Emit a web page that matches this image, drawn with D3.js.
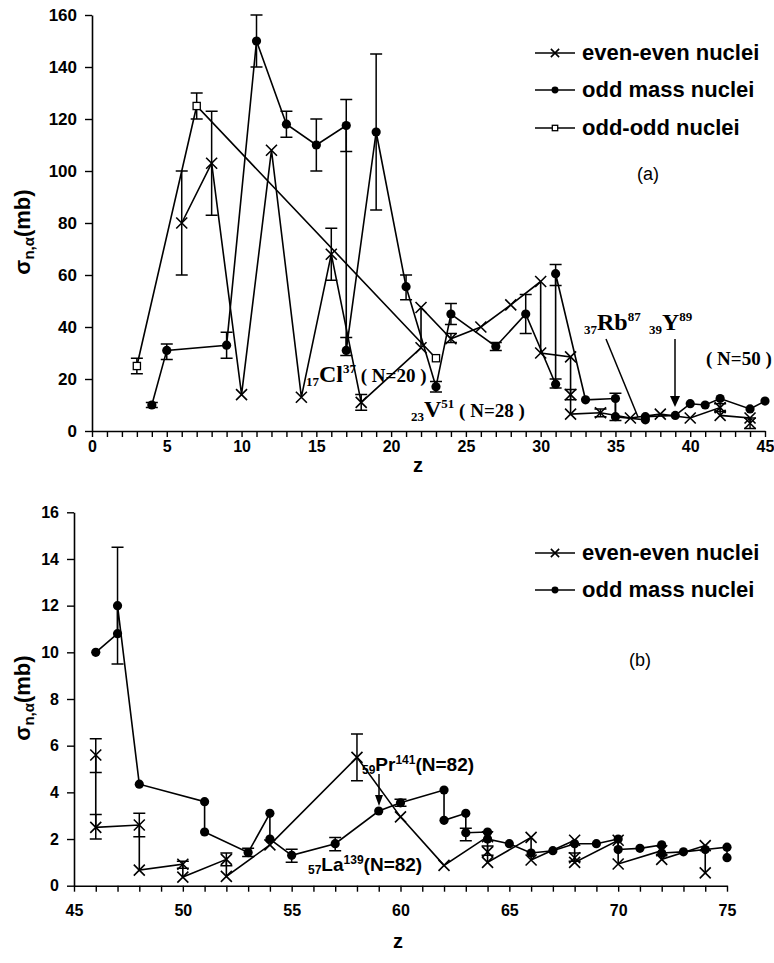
<!DOCTYPE html>
<html><head><meta charset="utf-8">
<script src="https://cdn.jsdelivr.net/npm/d3@7"></script>
<style>body{margin:0;background:#fff} svg{display:block}</style>
</head><body>
<script>
// ---------- DATA ----------
// panel (a)  [Z, value, errLow, errHigh]
const evenEvenA = [
  [6,80,60,100],[8,103,83,123],[10,14],[12,108],[14,13],[16,68,58,78],[18,11,8,14],
  [22,32],[22,47.5],[24,35.5,34,37.5],[26,40],[28,48.5],[30,57.5],[30,30],[32,28.5],
  [32,14,12,16],[32,6.5],[34,7,5.5,8.5],[36,5],[38,6.5],[40,5],[42,9,7.5,10.5],[42,6],[44,5],[44,3,1,5]
];
const oddMassA = [
  [4,10,9,11],[5,31,27.5,33.5],[9,33,28,38],[11,150,140,160],[13,118,113,123],[15,110,100,120],
  [17,117.5,107.5,127.5],[17,31,29,36],[19,115,85,145],[21,55.5,50.5,60],[23,17,15,19],
  [24,45,41,49],[27,32.5,31,34],[29,45,37.5,52.5],[31,18,16.5,20],[31,60.5,56,64],[33,12],
  [35,12.5,4,14.5],[35,5.5],[37,4.3],[37,5.5],[39,6],[40,10.5],[41,10],[42,12.5],[44,8.5],[45,11.5]
];
const oddOddA = [[3,25,22,28],[7,125,120,130],[23,28]];
const xTicksA = d3.range(0,46,1);
const xLabelsA = [0,5,10,15,20,25,30,35,40,45];
const yTicksA = [0,20,40,60,80,100,120,140,160];

// panel (b)
const evenEvenB = [
  [46,5.6,4.85,6.3],[46,2.5,2.0,3.05],[48,2.6,2.1,3.1],[48,0.67],[50,0.92,0.75,1.05],[50,0.37],
  [52,1.13,0.85,1.4],[52,0.4],[54,1.75],[58,5.5,4.5,6.5],[60,2.95],[62,0.87],[64,2.1],
  [64,1.45,1.3,1.7],[64,1.0],[66,2.07],[66,1.1],[68,1.95],[68,1.2,1.05,1.4],[68,1.0],
  [70,1.95],[70,0.93],[72,1.5],[72,1.13],[74,1.72],[74,0.55]
];
const oddMassB = [
  [46,10.0],[47,10.8],[47,12,9.5,14.5],[48,4.35],[51,3.6],[51,2.3],[53,1.42,1.25,1.6],[54,3.1],
  [54,2.0],[55,1.3,1.0,1.56],[57,1.8,1.5,2.07],[59,3.2],[60,3.55,3.4,3.7],[62,4.1],[62,2.8],
  [63,3.1],[63,2.27,1.93,2.46],[64,2.3],[64,2.0],[65,1.8],[66,1.4],[67,1.5],[68,1.8],[69,1.8],
  [70,2.0],[70,1.55],[71,1.6],[72,1.75],[72,1.4],[73,1.45],[74,1.55],[75,1.65],[75,1.2]
];
const xTicksB = d3.range(45,76,1);
const xLabelsB = [45,50,55,60,65,70,75];
const yTicksB = [0,2,4,6,8,10,12,14,16];

const legendA = ["even-even nuclei","odd mass nuclei","odd-odd nuclei"];
const legendB = ["even-even nuclei","odd mass nuclei"];

// ---------- DRAW ----------
const svg = d3.select("body").append("svg").attr("width",774).attr("height",963);
const SANS = "'Liberation Sans', Arial, sans-serif";
const SERIF = "'Liberation Serif', 'Times New Roman', serif";

function marker(g, type, cx, cy, s){
  s = s || 1;
  if(type==="x"){
    const r=5.5*s;
    g.append("path").attr("d",`M${cx-r},${cy-r}L${cx+r},${cy+r}M${cx-r},${cy+r}L${cx+r},${cy-r}`)
      .attr("stroke","#000").attr("stroke-width",1.6).attr("fill","none");
  } else if(type==="dot"){
    g.append("circle").attr("cx",cx).attr("cy",cy).attr("r",4.6*s).attr("fill","#000");
  } else {
    const h=3.6*s;
    g.append("rect").attr("x",cx-h).attr("y",cy-h).attr("width",2*h).attr("height",2*h)
      .attr("fill","#fff").attr("stroke","#000").attr("stroke-width",1.3);
  }
}

function panel(x, y, series, xTicks, xLabels, yTicks, yFont, xLabelY){
  const g = svg.append("g");
  const ax = d3.axisBottom(x).tickValues(xTicks).tickSize(6).tickSizeOuter(0)
    .tickFormat(d=> xLabels.includes(d) ? d : "");
  const axg = g.append("g").attr("transform",`translate(0,${y.range()[0]})`).call(ax);
  axg.select(".domain").attr("stroke-width",1.6);
  axg.selectAll(".tick line").attr("stroke-width",1.4);
  axg.selectAll("text").attr("font-family",SANS).attr("font-weight","bold").attr("font-size",16)
    .attr("dy",null).attr("y",xLabelY);
  const ay = d3.axisLeft(y).tickValues(yTicks).tickSize(7).tickSizeOuter(0).tickPadding(8);
  const ayg = g.append("g").attr("transform",`translate(${x.range()[0]},0)`).call(ay);
  ayg.select(".domain").attr("stroke-width",1.6);
  ayg.selectAll(".tick line").attr("stroke-width",1.4);
  ayg.selectAll("text").attr("font-family",SANS).attr("font-weight","bold").attr("font-size",yFont);

  const line = d3.line().x(d=>x(d[0])).y(d=>y(d[1]));
  series.forEach(s=>{
    g.append("path").attr("d",line(s.data)).attr("fill","none").attr("stroke","#000").attr("stroke-width",1.6);
  });
  series.forEach(s=>{
    s.data.forEach(d=>{
      if(d.length>2){
        const cx=x(d[0]), y1=y(d[2]), y2=y(d[3]);
        g.append("path").attr("d",`M${cx},${y1}L${cx},${y2}M${cx-6},${y1}L${cx+6},${y1}M${cx-6},${y2}L${cx+6},${y2}`)
          .attr("stroke","#000").attr("stroke-width",1.5).attr("fill","none");
      }
    });
  });
  series.forEach(s=>{
    s.data.forEach(d=> marker(g, s.type, x(d[0]), y(d[1])));
  });
  return g;
}

function legend(items, types, x0, ys){
  items.forEach((t,i)=>{
    const yy=ys[i];
    svg.append("line").attr("x1",x0).attr("x2",x0+40).attr("y1",yy).attr("y2",yy).attr("stroke","#000").attr("stroke-width",1.5);
    marker(svg, types[i], x0+20, yy, 0.75);
    svg.append("text").attr("x",x0+47).attr("y",yy+7).text(t)
      .attr("font-family",SANS).attr("font-weight","bold").attr("font-size",22);
  });
}

function yTitle(cx, cy){
  const t = svg.append("text").attr("transform",`translate(${cx},${cy}) rotate(-90)`)
    .attr("text-anchor","middle").attr("font-family",SANS).attr("font-weight","bold").attr("font-size",22);
  t.append("tspan").text("σ");
  t.append("tspan").attr("font-size",15).attr("dy",4).text("n,α");
  t.append("tspan").attr("dy",-4).text("(mb)");
}

// parts: [text, fontSize, offsetFromBaseline]
function label(x0, base, parts, family){
  const t = svg.append("text").attr("x",x0).attr("y",base).attr("font-family",family).attr("font-weight","bold");
  let prev = 0;
  parts.forEach(p=>{ t.append("tspan").attr("font-size",p[1]).attr("dy",p[2]-prev).text(p[0]); prev=p[2]; });
}

// Panel A
const xA = d3.scaleLinear([0,45],[92,765]);
const yA = d3.scaleLinear([0,160],[431,15]);
panel(xA,yA,[{data:oddOddA,type:"sq"},{data:evenEvenA,type:"x"},{data:oddMassA,type:"dot"}],
      xTicksA,xLabelsA,yTicksA,17,21);
legend(legendA,["x","dot","sq"],535,[53,90,128]);
svg.append("text").attr("x",648).attr("y",180).attr("text-anchor","middle").attr("font-family",SANS).attr("font-size",18).text("(a)");
svg.append("text").attr("x",418).attr("y",472).attr("text-anchor","middle").attr("font-family",SANS).attr("font-weight","bold").attr("font-size",20).text("z");
yTitle(30,232);

// annotations A (serif)
label(306,382,[["17",13,4],["Cl",24,0],["37",13,-9],[" ( N=20 )",19,0]],SERIF);
label(411,417,[["23",13,4],["V",24,0],["51",13,-9],[" ( N=28 )",19,0]],SERIF);
label(584,330,[["37",13,4],["Rb",24,0],["87",13,-9]],SERIF);
label(649,330,[["39",13,4],["Y",24,0],["89",13,-9]],SERIF);
svg.append("text").attr("x",706).attr("y",365).attr("font-family",SERIF).attr("font-weight","bold").attr("font-size",19).text("( N=50 )");
svg.append("line").attr("x1",606).attr("y1",339).attr("x2",638).attr("y2",417).attr("stroke","#000").attr("stroke-width",1.5);
svg.append("line").attr("x1",675).attr("y1",339).attr("x2",675).attr("y2",398).attr("stroke","#000").attr("stroke-width",1.5);
svg.append("path").attr("d","M670,396L680,396L675,407Z").attr("fill","#000");

// Panel B
const xB = d3.scaleLinear([45,75],[74,727]);
const yB = d3.scaleLinear([0,16],[885.7,512.3]);
panel(xB,yB,[{data:evenEvenB,type:"x"},{data:oddMassB,type:"dot"}],
      xTicksB,xLabelsB,yTicksB,16,30);
legend(legendB,["x","dot"],535,[553,590]);
svg.append("text").attr("x",640).attr("y",666).attr("text-anchor","middle").attr("font-family",SANS).attr("font-size",18).text("(b)");
svg.append("text").attr("x",398).attr("y",948).attr("text-anchor","middle").attr("font-family",SANS).attr("font-weight","bold").attr("font-size",20).text("z");
yTitle(30,698);

label(362,771,[["59",12,3],["Pr",19,0],["141",12,-7],["(N=82)",19,0]],SANS);
label(308,871,[["57",12,3],["La",19,0],["139",12,-7],["(N=82)",19,0]],SANS);
svg.append("line").attr("x1",379).attr("y1",774).attr("x2",379).attr("y2",797).attr("stroke","#000").attr("stroke-width",1.5);
svg.append("path").attr("d","M375,795L383,795L379,806Z").attr("fill","#000");
</script>
</body></html>
